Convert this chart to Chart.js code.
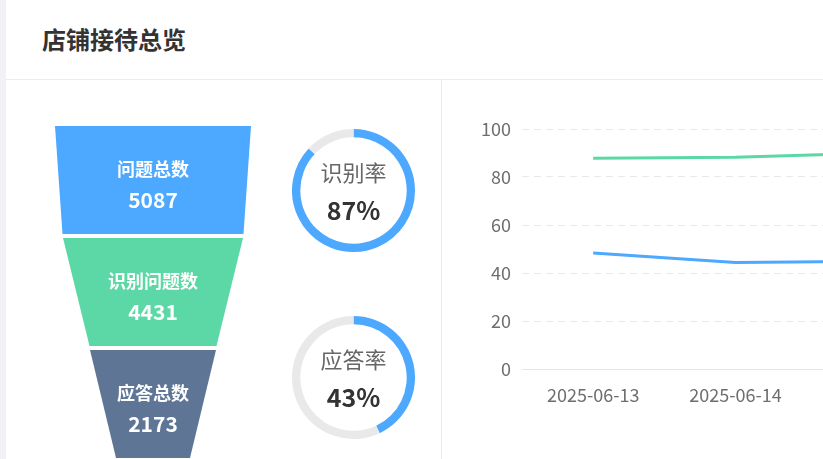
<!DOCTYPE html>
<html>
<head>
<meta charset="utf-8">
<script src="https://cdn.jsdelivr.net/npm/chart.js@4.4.1/dist/chart.umd.min.js"></script>
<style>
  html, body { margin: 0; padding: 0; width: 823px; height: 459px; overflow: hidden; background: #f0f2f5; }
  body { font-family: "Noto Sans CJK SC", "Noto Sans", sans-serif; }
  #card { position: absolute; left: 6px; top: 0; width: 1000px; height: 459px; background: #fff; }
  #header { position: absolute; left: 0; top: 0; width: 1000px; height: 80px; border-bottom: 1px solid #ececec; box-sizing: border-box; }
  #title { position: absolute; left: 36px; top: 22px; font-size: 24px; font-weight: bold; color: #333; line-height: 34px; letter-spacing: 0px; }
  #vdiv { position: absolute; left: 435px; top: 80px; width: 1px; height: 400px; background: #ececec; }
  .abs { position: absolute; }
</style>
</head>
<body>
<div id="card">
  <div id="header"><div id="title">店铺接待总览</div></div>
  <div id="vdiv"></div>
</div>
<div class="abs" style="left:38px; top:124px; width:230px; height:336px;"><canvas id="funnel"></canvas></div>
<div class="abs" style="left:292px; top:129px; width:123px; height:123px;"><canvas id="donut1"></canvas></div>
<div class="abs" style="left:292px; top:316px; width:123px; height:123px;"><canvas id="donut2"></canvas></div>
<div class="abs" style="left:442px; top:81px; width:540px; height:378px;"><canvas id="line"></canvas></div>
<script>
// ---------- data ----------
const funnelLabels = ["问题总数", "识别问题数", "应答总数"];
const funnelValues = [5087, 4431, 2173];
const rateLabels = ["识别率", "应答率"];
const rateValues = [87, 43];
const dates = ["2025-06-13", "2025-06-14", "2025-06-15"];
const recognizeRate = [87.8, 88.2, 90.0];
const answerRate = [48.3, 44.4, 44.9];
const yTicks = [0, 20, 40, 60, 80, 100];

const BLUE = "#4da8ff", GREEN = "#5bd8a6", SLATE = "#5f7596";
const FONT = '"Noto Sans CJK SC", "Noto Sans", sans-serif';

// ---------- funnel (horizontal floating bars reshaped into trapezoids) ----------
const funnelShape = { topHalf: [98, 90, 63], bottomHalf: [90.5, 63.5, 37] }; // style: half widths in x-scale units
const funnelColors = [BLUE, GREEN, SLATE];

const funnelPlugin = {
  id: "funnelShape",
  afterDatasetsDraw(chart) {
    const ctx = chart.ctx;
    const xs = chart.scales.x;
    const meta = chart.getDatasetMeta(0);
    meta.data.forEach((bar, i) => {
      const top = bar.y - bar.height / 2;
      const bot = bar.y + bar.height / 2;
      const c = xs.getPixelForValue(0);
      const tl = xs.getPixelForValue(-funnelShape.topHalf[i]);
      const tr = xs.getPixelForValue(funnelShape.topHalf[i]);
      const bl = xs.getPixelForValue(-funnelShape.bottomHalf[i]);
      const br = xs.getPixelForValue(funnelShape.bottomHalf[i]);
      ctx.save();
      ctx.beginPath();
      ctx.moveTo(tl, top); ctx.lineTo(tr, top); ctx.lineTo(br, bot); ctx.lineTo(bl, bot);
      ctx.closePath();
      ctx.fillStyle = funnelColors[i];
      ctx.fill();
      ctx.fillStyle = "#fff";
      ctx.textAlign = "center";
      ctx.textBaseline = "middle";
      ctx.font = "bold 18px " + FONT;
      ctx.fillText(funnelLabels[i], c, bar.y - 11);
      ctx.font = "bold 21px " + FONT;
      ctx.fillText(String(funnelValues[i]), c, bar.y + 20);
      ctx.restore();
    });
  }
};

new Chart(document.getElementById("funnel"), {
  type: "bar",
  data: {
    labels: funnelLabels,
    datasets: [{
      data: funnelValues.map((v, i) => [-funnelShape.topHalf[i], funnelShape.topHalf[i]]),
      backgroundColor: "rgba(0,0,0,0)",
      borderWidth: 0,
      categoryPercentage: 1,
      barPercentage: 108 / 112
    }]
  },
  options: {
    indexAxis: "y",
    responsive: true,
    maintainAspectRatio: false,
    animation: false,
    layout: { padding: 0, autoPadding: false },
    plugins: { legend: { display: false }, tooltip: { enabled: false } },
    scales: {
      x: { display: false, min: -115, max: 115 },
      y: { display: false }
    }
  },
  plugins: [funnelPlugin]
});

// ---------- donuts ----------
function makeDonut(id, label, value) {
  const centerText = {
    id: "centerText" + id,
    afterDraw(chart) {
      const arc = chart.getDatasetMeta(0).data[0];
      const ctx = chart.ctx;
      ctx.save();
      ctx.textAlign = "center";
      ctx.textBaseline = "middle";
      ctx.fillStyle = "#666";
      ctx.font = "22px " + FONT;
      ctx.fillText(label, arc.x, arc.y - 18);
      ctx.fillStyle = "#333";
      ctx.font = "bold 25px " + FONT;
      ctx.fillText(value + "%", arc.x, arc.y + 20);
      ctx.restore();
    }
  };
  new Chart(document.getElementById(id), {
    type: "doughnut",
    data: {
      labels: [label, ""],
      datasets: [{
        data: [value, 100 - value],
        backgroundColor: [BLUE, "#e9e9e9"],
        borderWidth: 0
      }]
    },
    options: {
      responsive: true,
      maintainAspectRatio: false,
      animation: false,
      cutout: "86.5%",
      layout: { padding: 0 },
      plugins: { legend: { display: false }, tooltip: { enabled: false } }
    },
    plugins: [centerText]
  });
}
makeDonut("donut1", rateLabels[0], rateValues[0]);
makeDonut("donut2", rateLabels[1], rateValues[1]);

// ---------- line chart ----------
new Chart(document.getElementById("line"), {
  type: "line",
  data: {
    labels: dates,
    datasets: [
      { label: "识别率", data: recognizeRate, borderColor: GREEN, borderWidth: 3, pointRadius: 0, tension: 0, fill: false },
      { label: "应答率", data: answerRate, borderColor: BLUE, borderWidth: 3, pointRadius: 0, tension: 0, fill: false }
    ]
  },
  options: {
    responsive: true,
    maintainAspectRatio: false,
    animation: false,
    layout: { padding: { top: 48, right: 33, bottom: 0, left: 0 }, autoPadding: false },
    plugins: { legend: { display: false }, tooltip: { enabled: false } },
    scales: {
      x: {
        offset: true,
        grid: { display: false },
        border: { display: true, color: "#e6e6e6", width: 1 },
        ticks: { color: "#6e6e6e", font: { family: FONT, size: 18 }, padding: 7, maxRotation: 0 },
        afterFit(s) { s.height = 90; }
      },
      y: {
        min: 0, max: 100,
        afterBuildTicks(s) { s.ticks = yTicks.map(v => ({ value: v })); },
        grid: {
          drawTicks: false,
          color: (c) => (c.tick && c.tick.value === 0) ? "rgba(0,0,0,0)" : "#e8e8e8",
          lineWidth: 1
        },
        border: { display: false, dash: [7, 5] },
        ticks: { color: "#6e6e6e", font: { family: FONT, size: 18 }, padding: 11 },
        afterFit(s) { s.width = 80; }
      }
    }
  }
});
</script>
</body>
</html>
